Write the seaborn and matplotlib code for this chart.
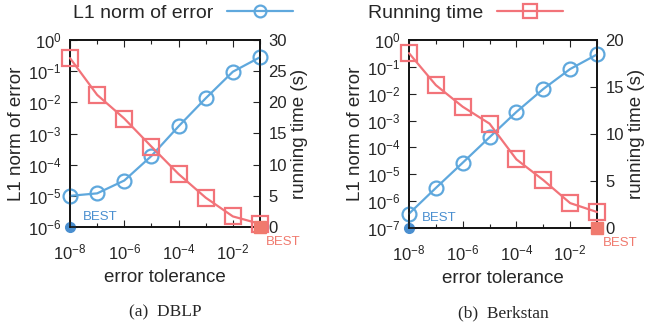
import numpy as np
import pandas as pd
import seaborn as sns
import matplotlib
matplotlib.use("Agg")
import matplotlib.pyplot as plt
from matplotlib.lines import Line2D
from matplotlib.ticker import LogLocator, FixedLocator, NullFormatter, FuncFormatter

# data
tolerance = [1e-8, 1e-7, 1e-6, 1e-5, 1e-4, 1e-3, 1e-2, 1e-1]
dblp_error = [1.0e-5, 1.2e-5, 3.1e-5, 1.9e-4, 1.7e-3, 1.35e-2, 9.6e-2, 2.8e-1]
dblp_time = [27.1, 21.2, 17.4, 12.9, 8.5, 4.7, 1.7, 0.5]
berk_error = [3.4e-7, 3.1e-6, 2.7e-5, 2.4e-4, 2.1e-3, 1.5e-2, 8.3e-2, 2.9e-1]
berk_time = [18.6, 15.2, 12.9, 11.1, 7.3, 5.1, 2.65, 1.7]

panels = ["(a)  DBLP", "(b)  Berkstan"]
ylims = [(1e-6, 1), (1e-7, 1)]
time_max = [30, 20]
time_step = [5, 5]

BLUE = "#5fa8dd"
RED = "#f27379"
BLUE_DARK = "#4a8fd0"
RED_FILL = "#f07a6e"

sns.set_style("ticks")
plt.rcParams["font.family"] = ["Liberation Sans", "DejaVu Sans"]
plt.rcParams["mathtext.default"] = "regular"

fig = plt.figure(figsize=(6.45, 3.28), dpi=100)
boxes = [[70 / 645, 1 - 227 / 328, 190 / 645, 187 / 328],
         [409 / 645, 1 - 228 / 328, 188 / 645, 188 / 328]]
legend_x = [73 / 645, 368 / 645]


def pow10(v, pos):
    e = int(round(np.log10(v)))
    return "$10^{%d}$" % e


for i, (err, tm) in enumerate([(dblp_error, dblp_time), (berk_error, berk_time)]):
    ax = fig.add_axes(boxes[i])
    df = pd.DataFrame({"tol": tolerance, "err": err, "time": tm})
    sns.lineplot(data=df, x="tol", y="err", ax=ax, color=BLUE, lw=1.6,
                 marker="o", markersize=10, markerfacecolor="none",
                 markeredgecolor=BLUE, markeredgewidth=1.6, clip_on=False, zorder=3)
    ax.set_xscale("log")
    ax.set_yscale("log")
    ax.set_xlim(1e-8, 1e-1)
    ax.set_ylim(*ylims[i])

    ax2 = ax.twinx()
    sns.lineplot(data=df, x="tol", y="time", ax=ax2, color=RED, lw=1.6,
                 marker="s", markersize=11, markerfacecolor="none",
                 markeredgecolor=RED, markeredgewidth=1.6, clip_on=False, zorder=3)
    ax2.set_ylim(0, time_max[i])
    ax2.set_yticks(np.arange(0, time_max[i] + 1, time_step[i]))

    # ticks
    ax.xaxis.set_major_locator(FixedLocator([1e-8, 1e-6, 1e-4, 1e-2]))
    ax.xaxis.set_minor_locator(FixedLocator([1e-7, 1e-5, 1e-3, 1e-1]))
    ax.xaxis.set_major_formatter(FuncFormatter(pow10))
    ax.xaxis.set_minor_formatter(NullFormatter())
    ax.yaxis.set_major_locator(LogLocator(base=10, numticks=12))
    ax.yaxis.set_minor_locator(FixedLocator([]))
    ax.yaxis.set_major_formatter(FuncFormatter(pow10))
    ax.tick_params(axis="both", which="both", direction="in", labelsize=12,
                   top=True, width=0.8, color="#222222", pad=6)
    ax.tick_params(axis="x", which="major", length=5, pad=11)
    ax.tick_params(axis="x", which="minor", length=3)
    ax.tick_params(axis="y", which="major", length=5, right=False)
    ax2.tick_params(axis="y", direction="in", labelsize=12, length=5, width=0.8, pad=6)
    for a in (ax, ax2):
        for s in a.spines.values():
            s.set_linewidth(1.2)
            s.set_color("#111111")

    ax.set_xlabel("error tolerance", fontsize=13.5, labelpad=5)
    ax.set_ylabel("L1 norm of error", fontsize=13.5, labelpad=2)
    ax2.set_ylabel("running time (s)", fontsize=13.5, labelpad=3)

    # BEST markers
    ax.plot([tolerance[0]], [ylims[i][0]], "o", color=BLUE_DARK, markersize=7,
            clip_on=False, zorder=5)
    ax.annotate("BEST", xy=(tolerance[0], ylims[i][0]), xytext=(9.5, 7.5),
                textcoords="offset points", color=BLUE_DARK, fontsize=9.5,
                va="center", ha="left")
    ax2.plot([tolerance[-1]], [0], "s", color=RED_FILL, markersize=8.5,
             clip_on=False, zorder=5)
    ax2.annotate("BEST", xy=(tolerance[-1], 0), xytext=(4.3, -10.5),
                 textcoords="offset points", color=RED_FILL, fontsize=9.5,
                 va="center", ha="left")

    ax.text(0.5, -0.455, panels[i], transform=ax.transAxes, ha="center", va="center",
            fontsize=12.5, family=["Liberation Serif", "DejaVu Serif"])

    if i == 0:
        h = Line2D([], [], color=BLUE, lw=1.6, marker="o", markersize=8.5,
                   markerfacecolor="none", markeredgewidth=1.6)
        label = "L1 norm of error"
    else:
        h = Line2D([], [], color=RED, lw=1.6, marker="s", markersize=10,
                   markerfacecolor="none", markeredgewidth=1.6)
        label = "Running time"
    ax.legend([h], [label], loc="center left",
              bbox_to_anchor=(legend_x[i], 1 - 13 / 328), bbox_transform=fig.transFigure,
              frameon=False, markerfirst=False, handlelength=3.4, fontsize=14,
              borderaxespad=0, borderpad=0, handletextpad=0.7)

fig.savefig("out.png", dpi=100)
